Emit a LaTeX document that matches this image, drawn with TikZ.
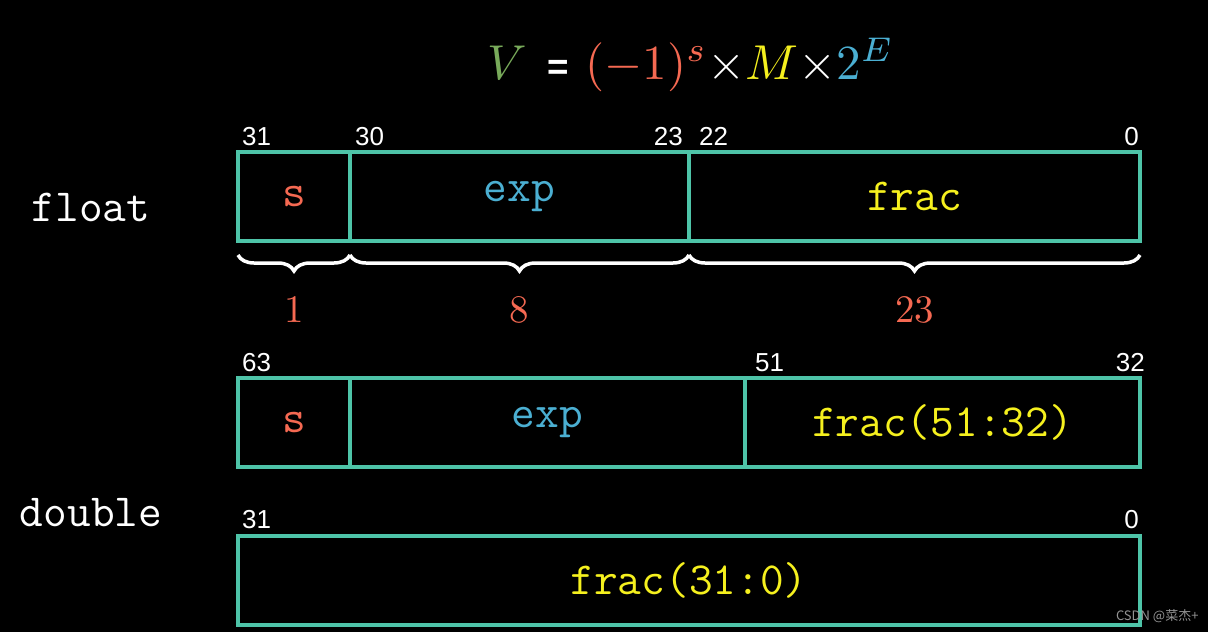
\documentclass[tikz,border=0pt]{standalone}
\usepackage{amsmath}
\usepackage{fontspec}
\usetikzlibrary{positioning,decorations.pathreplacing}
\newfontfamily\fieldfont{Latin Modern Mono}
\newfontfamily\bitfont{Liberation Sans}
\newfontfamily\cjk{Noto Sans CJK SC}
\definecolor{boxteal}{RGB}{78,196,168}
\definecolor{sred}{RGB}{245,105,82}
\definecolor{eblue}{RGB}{75,175,210}
\definecolor{fyellow}{RGB}{245,240,30}
\definecolor{vgreen}{RGB}{120,170,90}

\begin{document}
\begin{tikzpicture}[x=1pt, y=-1pt,
    field/.style={draw=boxteal, line width=3.5pt, minimum height=89pt, inner sep=0pt, outer sep=0pt,
      font=\fieldfont\fontsize{46}{46}\selectfont},
    bitnum/.style={text=white, inner sep=0pt, font=\bitfont\fontsize{26}{26}\selectfont},
    typename/.style={text=white, font=\fieldfont\fontsize{46}{46}\selectfont},
    brace/.style={white, line width=3.5pt, decorate, decoration={brace, mirror, amplitude=16pt}},
    bracenum/.style={text=sred, inner sep=0pt}]
  % background
  \fill[black] (0,0) rectangle (1208,632);
  \useasboundingbox (0,0) rectangle (1208,632);
  % formula
  \node[anchor=base, inner sep=0pt] (formula) at (691,79)
    {\scalebox{4.9}{$\color{vgreen}V\hspace{4pt}{\color{white}\text{\bitfont\bfseries\fontsize{7.5}{7.5}\selectfont =}}\hspace{3.5pt}{\color{sred}(-1)^s}{\color{white}\times}{\color{fyellow}M}{\color{white}\times}{\color{eblue}2^E}$}};
  % float
  \node[typename] (float) at (91,207) {float};
  \node[field, minimum width=112pt, anchor=north west, text=sred] (fs) at (238,152) {s};
  \node[field, minimum width=339pt, right=0pt of fs, text=eblue] (fe) {exp};
  \node[field, minimum width=451pt, right=0pt of fe, text=fyellow] (ff) {frac};
  \node[bitnum, anchor=base west] (f31) at ([xshift=4pt, yshift=7pt]fs.north west) {31};
  \node[bitnum, anchor=base west] (f30) at ([xshift=5pt, yshift=7pt]fe.north west) {30};
  \node[bitnum, anchor=base east] (f23) at ([xshift=-6pt, yshift=7pt]fe.north east) {23};
  \node[bitnum, anchor=base west] (f22) at ([xshift=10pt, yshift=7pt]ff.north west) {22};
  \node[bitnum, anchor=base east] (f0) at ([xshift=-1pt, yshift=7pt]ff.north east) {0};
  % braces
  \draw[brace] ([yshift=-14pt]fs.south west) -- ([yshift=-14pt]fs.south east)
    node[bracenum, midway, below=40pt] (n1) {\scalebox{3.9}{1}};
  \draw[brace] ([yshift=-14pt]fe.south west) -- ([yshift=-14pt]fe.south east)
    node[bracenum, midway, below=40pt] (n8) {\scalebox{3.9}{8}};
  \draw[brace] ([yshift=-14pt]ff.south west) -- ([yshift=-14pt]ff.south east)
    node[bracenum, midway, below=40pt] (n23) {\scalebox{3.9}{23}};
  % double, upper word
  \node[typename] (double) at (91,513) {double};
  \node[field, minimum width=112pt, anchor=north west, text=sred] (ds) at (238,378) {s};
  \node[field, minimum width=395pt, right=0pt of ds, text=eblue] (de) {exp};
  \node[field, minimum width=395pt, right=0pt of de, text=fyellow] (df) {frac(51:32)};
  \node[bitnum, anchor=base west] (d63) at ([xshift=4pt, yshift=7pt]ds.north west) {63};
  \node[bitnum, anchor=base west] (d51) at ([xshift=10pt, yshift=7pt]df.north west) {51};
  \node[bitnum, anchor=base east] (d32) at ([xshift=5pt, yshift=7pt]df.north east) {32};
  % double, lower word
  \node[field, minimum width=902pt, anchor=north west, text=fyellow] (dl) at (238,536) {frac(31:0)};
  \node[bitnum, anchor=base west] (d31) at ([xshift=4pt, yshift=8pt]dl.north west) {31};
  \node[bitnum, anchor=base east] (d0) at ([xshift=-1pt, yshift=8pt]dl.north east) {0};
  % watermark
  \node[text=gray!85, anchor=east, font=\cjk\fontsize{13}{13}\selectfont] (mark) at (1202,616) {CSDN @菜杰+};
\end{tikzpicture}
\end{document}
